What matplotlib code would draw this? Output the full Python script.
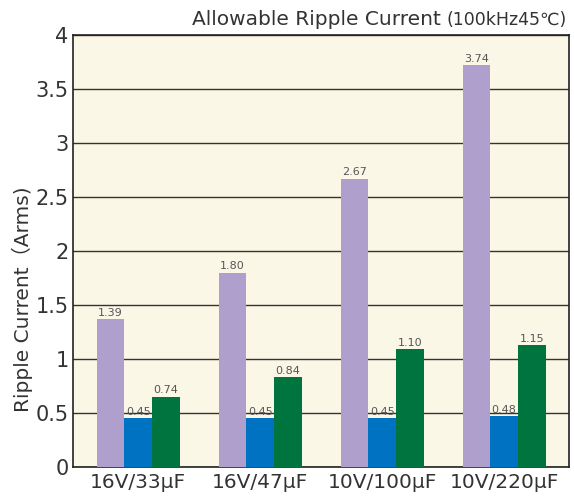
import matplotlib
matplotlib.use('Agg')
import matplotlib.pyplot as plt
import numpy as np

plt.rcParams['font.family'] = ['DejaVu Sans', 'Noto Sans CJK JP']

# data
categories = ['16V/33μF', '16V/47μF', '10V/100μF', '10V/220μF']
purple_vals = [1.37, 1.80, 2.67, 3.72]
blue_vals = [0.45, 0.45, 0.45, 0.47]
green_vals = [0.65, 0.83, 1.09, 1.13]
purple_lbl = ['1.39', '1.80', '2.67', '3.74']
blue_lbl = ['0.45', '0.45', '0.45', '0.48']
green_lbl = ['0.74', '0.84', '1.10', '1.15']
yticks = [0, 0.5, 1, 1.5, 2, 2.5, 3, 3.5, 4]
ytick_lbl = ['0', '0.5', '1', '1.5', '2', '2.5', '3', '3.5', '4']

txt_col = '#333333'

fig = plt.figure(figsize=(5.74, 4.99), dpi=100)
ax = fig.add_axes([0.127, 0.064, 0.864, 0.866])
ax.set_facecolor('#FAF7E7')

x = np.arange(len(categories))
w = 0.227
series = [(purple_vals, purple_lbl, '#AF9FCC', -w),
          (blue_vals, blue_lbl, '#0072C2', 0),
          (green_vals, green_lbl, '#00743F', w)]
for vals, lbls, col, off in series:
    bars = ax.bar(x + off, vals, w, color=col, zorder=3)
    for b, t in zip(bars, lbls):
        ax.annotate(t, (b.get_x() + b.get_width() / 2, b.get_height()),
                    xytext=(0, 1), textcoords='offset points',
                    ha='center', va='bottom', fontsize=8, color='#555555',
                    zorder=4)

ax.set_xlim(-0.535, 3.53)
ax.set_ylim(0, 4)
ax.set_yticks(yticks)
ax.set_yticklabels(ytick_lbl, fontsize=15, color=txt_col)
ax.set_xticks(x)
ax.set_xticklabels(categories, fontsize=14.5, color=txt_col)
ax.tick_params(axis='y', length=0, pad=3)
ax.tick_params(axis='x', length=0, pad=4)
ax.yaxis.grid(True, color='#333333', lw=1.0, zorder=1)
ax.set_axisbelow(True)
for s in ax.spines.values():
    s.set_color('#222222')
    s.set_linewidth(1.2)

fig.text(22 / 574, 0.40, 'Ripple Current（Arms)', rotation=90, ha='center',
         va='center', fontsize=14.5, color=txt_col)

# title: main part + smaller parenthetical, right aligned
t2 = fig.text(0.988, 0.950, '(100kHz45℃)', ha='right', va='baseline',
              fontsize=12.5, color=txt_col)
fig.canvas.draw()
bb = t2.get_window_extent()
x0 = bb.x0 / fig.bbox.width
fig.text(x0 - 0.01, 0.950, 'Allowable Ripple Current', ha='right', va='baseline',
         fontsize=14.5, color=txt_col)

fig.savefig('out.png', dpi=100)
